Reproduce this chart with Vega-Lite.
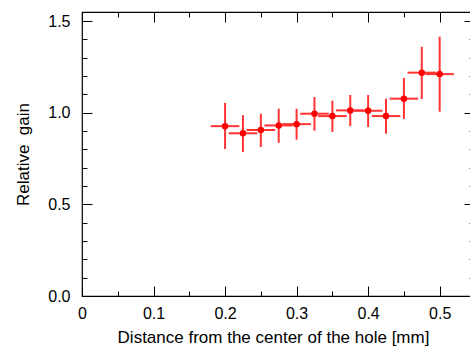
{
  "$schema": "https://vega.github.io/schema/vega-lite/v6.json",
  "width": 392,
  "height": 284,
  "autosize": {"type": "none"},
  "padding": {"left": 82, "top": 12, "right": 0, "bottom": 51},
  "config": {
    "view": {"stroke": "black", "strokeWidth": 1.2},
    "axis": {
      "domain": false,
      "grid": false,
      "tickColor": "black",
      "tickWidth": 1,
      "labelFont": "Liberation Sans",
      "labelFontSize": 16,
      "labelColor": "black",
      "titleFont": "Liberation Sans",
      "titleFontSize": 17,
      "titleFontWeight": "normal",
      "titleColor": "black",
      "labelOverlap": false,
      "labelFlush": false
    }
  },
  "data": {
    "values": [
      {"d": 0.200, "dLo": 0.180, "dHi": 0.220, "gain": 0.927, "gLo": 0.802, "gHi": 1.054},
      {"d": 0.225, "dLo": 0.205, "dHi": 0.245, "gain": 0.888, "gLo": 0.786, "gHi": 0.987},
      {"d": 0.250, "dLo": 0.230, "dHi": 0.270, "gain": 0.906, "gLo": 0.813, "gHi": 0.995},
      {"d": 0.275, "dLo": 0.255, "dHi": 0.295, "gain": 0.931, "gLo": 0.836, "gHi": 1.022},
      {"d": 0.300, "dLo": 0.280, "dHi": 0.320, "gain": 0.938, "gLo": 0.853, "gHi": 1.022},
      {"d": 0.325, "dLo": 0.305, "dHi": 0.345, "gain": 0.995, "gLo": 0.902, "gHi": 1.086},
      {"d": 0.350, "dLo": 0.330, "dHi": 0.370, "gain": 0.982, "gLo": 0.895, "gHi": 1.066},
      {"d": 0.375, "dLo": 0.355, "dHi": 0.395, "gain": 1.013, "gLo": 0.927, "gHi": 1.097},
      {"d": 0.400, "dLo": 0.380, "dHi": 0.420, "gain": 1.011, "gLo": 0.922, "gHi": 1.097},
      {"d": 0.425, "dLo": 0.405, "dHi": 0.445, "gain": 0.982, "gLo": 0.886, "gHi": 1.077},
      {"d": 0.450, "dLo": 0.430, "dHi": 0.470, "gain": 1.077, "gLo": 0.966, "gHi": 1.190},
      {"d": 0.475, "dLo": 0.455, "dHi": 0.495, "gain": 1.219, "gLo": 1.075, "gHi": 1.360},
      {"d": 0.500, "dLo": 0.480, "dHi": 0.520, "gain": 1.211, "gLo": 1.006, "gHi": 1.415}
    ]
  },
  "layer": [
    {
      "mark": {"type": "rule", "color": "#ff3333", "strokeWidth": 2},
      "encoding": {
        "x": {
          "field": "dLo", "type": "quantitative",
          "scale": {"domain": [0, 0.548], "nice": false, "zero": false},
          "axis": {
            "orient": "bottom",
            "values": [0, 0.05, 0.1, 0.15, 0.2, 0.25, 0.3, 0.35, 0.4, 0.45, 0.5],
            "tickSize": {"condition": {"test": "round(datum.value*100) % 10 != 0", "value": -5}, "value": -10},
            "labelExpr": "round(datum.value*100) % 10 != 0 ? '' : format(datum.value, '~g')",
            "labelPadding": 19,
            "title": "Distance from the center of the hole [mm]",
            "titlePadding": 3,
            "titleX": 191
          }
        },
        "x2": {"field": "dHi"},
        "y": {
          "field": "gain", "type": "quantitative",
          "scale": {"domain": [0, 1.55], "nice": false, "zero": false},
          "axis": {
            "orient": "left",
            "values": [0, 0.1, 0.2, 0.3, 0.4, 0.5, 0.6, 0.7, 0.8, 0.9, 1.0, 1.1, 1.2, 1.3, 1.4, 1.5],
            "tickSize": {"condition": {"test": "round(datum.value*10) % 5 != 0", "value": -5}, "value": -10},
            "labelExpr": "round(datum.value*10) % 5 != 0 ? '' : format(datum.value, '.1f')",
            "labelPadding": 22,
            "title": "Relative\u00a0 gain",
            "titlePadding": 15
          }
        }
      }
    },
    {
      "mark": {"type": "rule", "color": "#ff3333", "strokeWidth": 2},
      "encoding": {
        "x": {"field": "d", "type": "quantitative", "axis": null},
        "y": {"field": "gLo", "type": "quantitative", "axis": null},
        "y2": {"field": "gHi"}
      }
    },
    {
      "mark": {"type": "point", "shape": "circle", "filled": true, "color": "#ff0000", "size": 42, "opacity": 1},
      "encoding": {
        "x": {
          "field": "d", "type": "quantitative",
          "axis": {
            "orient": "top",
            "values": [0, 0.05, 0.1, 0.15, 0.2, 0.25, 0.3, 0.35, 0.4, 0.45, 0.5],
            "tickSize": {"condition": {"test": "round(datum.value*100) % 10 != 0", "value": -5}, "value": -10},
            "labels": false,
            "title": null
          }
        },
        "y": {
          "field": "gain", "type": "quantitative",
          "axis": {
            "orient": "right",
            "values": [0, 0.1, 0.2, 0.3, 0.4, 0.5, 0.6, 0.7, 0.8, 0.9, 1.0, 1.1, 1.2, 1.3, 1.4, 1.5],
            "tickSize": {"condition": {"test": "round(datum.value*10) % 5 != 0", "value": -5}, "value": -10},
            "labels": false,
            "title": null
          }
        }
      }
    }
  ],
  "resolve": {"axis": {"x": "independent", "y": "independent"}}
}
